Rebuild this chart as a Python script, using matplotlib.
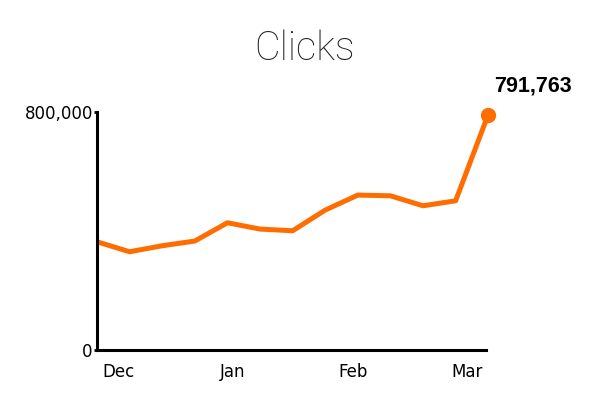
import matplotlib.pyplot as plt
from matplotlib.ticker import FuncFormatter

# weekly clicks, Dec -> Mar
weeks = list(range(13))
clicks = [364000, 330400, 350600, 366400, 427900, 406700, 401000,
          470500, 521000, 518600, 485000, 501800, 791763]
month_pos = [0.65, 4.15, 7.85, 11.35]
month_labels = ["Dec", "Jan", "Feb", "Mar"]
y_ticks = [0, 800000]

orange = "#ff6d00"

fig = plt.figure(figsize=(6.12, 3.99), dpi=100)
ax = fig.add_axes([0.1585, 0.1228, 0.794 - 0.1585, 0.719 - 0.1228])

ax.plot(weeks, clicks, color=orange, lw=3.6, solid_joinstyle="round",
        solid_capstyle="butt", clip_on=False)
ax.plot(weeks[-1], clicks[-1], "o", color=orange, ms=10, clip_on=False)
ax.annotate(f"{clicks[-1]:,}", (weeks[-1], clicks[-1]), xytext=(4.5, 13),
            textcoords="offset points", fontsize=15.5, fontweight="bold",
            family="Liberation Sans", ha="left", va="bottom",
            annotation_clip=False)

ax.set_xlim(0, 11.93)
ax.set_ylim(0, 800000)
ax.set_yticks(y_ticks)
ax.yaxis.set_major_formatter(FuncFormatter(lambda v, p: f"{int(v):,}"))
ax.set_xticks(month_pos)
ax.set_xticklabels(month_labels)

for s in ["top", "right"]:
    ax.spines[s].set_visible(False)
for s in ["left", "bottom"]:
    ax.spines[s].set_linewidth(2.2)
ax.tick_params(axis="y", length=2, width=2, pad=1, labelsize=12)
ax.tick_params(axis="x", length=0, pad=9, labelsize=12)
for t in ax.get_xticklabels() + ax.get_yticklabels():
    t.set_family("DejaVu Sans")

fig.suptitle("Clicks", x=0.498, y=0.925, fontsize=28.5, family="Roboto",
             fontweight="light", color="#222222")

fig.savefig("out.png", dpi=100)
